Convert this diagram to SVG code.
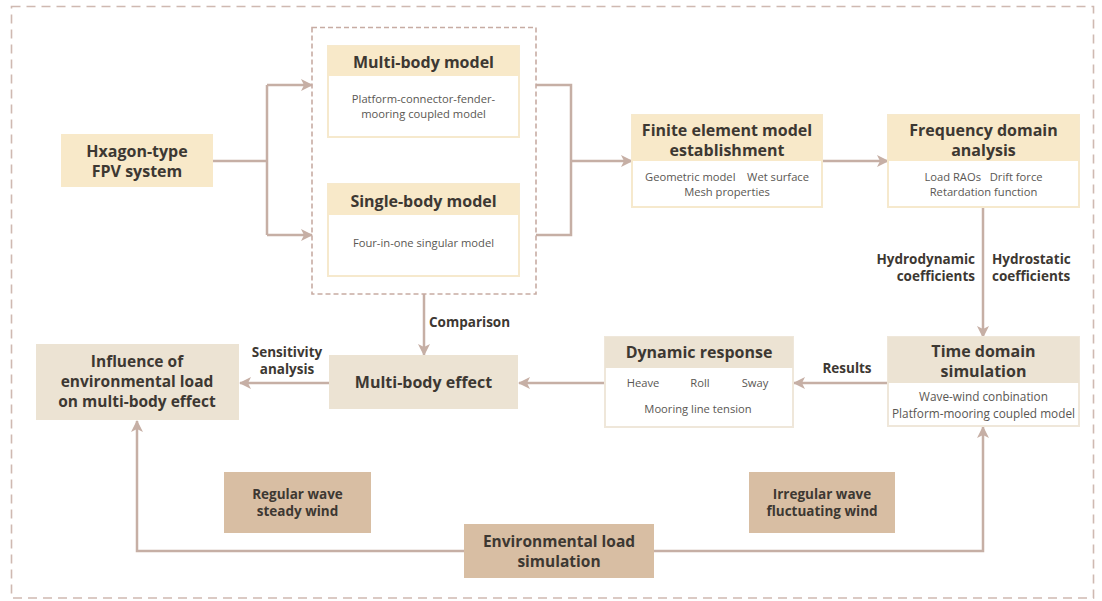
<svg xmlns="http://www.w3.org/2000/svg" width="1102" height="601" viewBox="0 0 1102 601">
<style>
.t{font-family:"Open Sans","Liberation Sans",sans-serif;font-weight:bold;font-size:16px;fill:#3d3832;text-anchor:middle}
.l{font-family:"Open Sans","Liberation Sans",sans-serif;font-weight:bold;font-size:13.5px;fill:#3d3832}
.s{font-family:"Open Sans","Liberation Sans",sans-serif;font-size:11.2px;fill:#5a5753;text-anchor:middle}
.hdrY{fill:#f8e9c9}
.hdrG{fill:#ece3d3}
.tan{fill:#d8bea3}
.body{fill:#ffffff;stroke:#f6e9cd;stroke-width:2}
.bodyG{fill:#ffffff;stroke:#efe7da;stroke-width:2}
.c{fill:none;stroke:#c6afa5;stroke-width:2.5}
.ca{fill:none;stroke:#c6afa5;stroke-width:2.5;marker-end:url(#ah)}
</style>
<defs>
<marker id="ah" markerUnits="userSpaceOnUse" markerWidth="12" markerHeight="12" viewBox="0 0 12 12" refX="11" refY="6" orient="auto">
<path d="M0,0 L12,6 L0,12 L3,6 z" fill="#c6afa5"/>
</marker>
</defs>
<rect x="0" y="0" width="1102" height="601" fill="#ffffff"/>
<rect x="11.5" y="6.5" width="1082" height="591.5" fill="none" stroke="#cfb9b1" stroke-width="1.6" stroke-dasharray="9 6"/>

<g id="connectors">
<path class="c" d="M213,161 H267 M267,85 V235"/>
<path class="ca" d="M267,85 H312"/>
<path class="ca" d="M267,235 H312"/>
<path class="c" d="M536,85 H571 V235 H536"/>
<path class="ca" d="M571,161 H632"/>
<path class="ca" d="M822,161 H888"/>
<path class="ca" d="M983,207 V337"/>
<path class="ca" d="M888,383 H794"/>
<path class="ca" d="M605,383 H519"/>
<path class="ca" d="M329,383 H240"/>
<path class="ca" d="M424,294 V355"/>
<path class="ca" d="M464,551 H137 V421"/>
<path class="ca" d="M654,551 H983 V427"/>
</g>

<g id="model-group">
<rect x="312" y="27.5" width="224" height="266.5" fill="none" stroke="#c7aca3" stroke-width="1.6" stroke-dasharray="5 3"/>
</g>

<g id="hxagon">
<rect x="61" y="134" width="152" height="53" class="hdrY"/>
<text class="t" x="137" y="157">Hxagon-type</text>
<text class="t" x="137" y="177">FPV system</text>
</g>

<g id="multi-body-model">
<rect x="328" y="46" width="191" height="91" class="body"/>
<rect x="328" y="46" width="191" height="30" class="hdrY"/>
<text class="t" x="423.5" y="68">Multi-body model</text>
<text class="s" x="423.5" y="103">Platform-connector-fender-</text>
<text class="s" x="423.5" y="118">mooring coupled model</text>
</g>

<g id="single-body-model">
<rect x="328" y="184" width="191" height="92" class="body"/>
<rect x="328" y="184" width="191" height="31" class="hdrY"/>
<text class="t" x="423.5" y="207">Single-body model</text>
<text class="s" x="423.5" y="247">Four-in-one singular model</text>
</g>

<g id="finite-element">
<rect x="632" y="115" width="190" height="92" class="body"/>
<rect x="632" y="115" width="190" height="46" class="hdrY"/>
<text class="t" x="727" y="136">Finite element model</text>
<text class="t" x="727" y="156">establishment</text>
<text class="s" x="727" y="181" xml:space="preserve">Geometric model    Wet surface</text>
<text class="s" x="727" y="196">Mesh properties</text>
</g>

<g id="frequency-domain">
<rect x="888" y="115" width="191" height="92" class="body"/>
<rect x="888" y="115" width="191" height="46" class="hdrY"/>
<text class="t" x="983.5" y="136">Frequency domain</text>
<text class="t" x="983.5" y="156">analysis</text>
<text class="s" x="983.5" y="181" xml:space="preserve">Load RAOs   Drift force</text>
<text class="s" x="983.5" y="196">Retardation function</text>
</g>

<g id="time-domain">
<rect x="888" y="337" width="191" height="89" class="bodyG"/>
<rect x="888" y="337" width="191" height="46" class="hdrG"/>
<text class="t" x="983.5" y="357">Time domain</text>
<text class="t" x="983.5" y="377">simulation</text>
<text class="s" x="983.5" y="401" style="font-size:11.8px">Wave-wind conbination</text>
<text class="s" x="983.5" y="418" style="font-size:11.8px">Platform-mooring coupled model</text>
</g>

<g id="dynamic-response">
<rect x="605" y="337" width="188" height="90" class="bodyG"/>
<rect x="605" y="337" width="188" height="31" class="hdrG"/>
<text class="t" x="699" y="358">Dynamic response</text>
<text class="s" x="643" y="387">Heave</text>
<text class="s" x="700" y="387">Roll</text>
<text class="s" x="755" y="387">Sway</text>
<text class="s" x="698" y="413">Mooring line tension</text>
</g>

<g id="multi-body-effect">
<rect x="329" y="355" width="189" height="54" class="hdrG"/>
<text class="t" x="423.5" y="388">Multi-body effect</text>
</g>

<g id="influence">
<rect x="36" y="344" width="203" height="76" class="hdrG"/>
<text class="t" x="137" y="367" style="font-size:15.5px">Influence of</text>
<text class="t" x="137" y="387" style="font-size:15.5px">environmental load</text>
<text class="t" x="137" y="407" style="font-size:15.5px">on multi-body effect</text>
</g>

<g id="regular-wave">
<rect x="224" y="472" width="147" height="61" class="tan"/>
<text class="l" x="297.5" y="499" text-anchor="middle">Regular wave</text>
<text class="l" x="297.5" y="516" text-anchor="middle">steady wind</text>
</g>

<g id="irregular-wave">
<rect x="749" y="472" width="146" height="61" class="tan"/>
<text class="l" x="822" y="499" text-anchor="middle">Irregular wave</text>
<text class="l" x="822" y="516" text-anchor="middle">fluctuating wind</text>
</g>

<g id="environmental-load">
<rect x="464" y="524" width="190" height="54" class="tan"/>
<text class="t" x="559" y="547" style="font-size:15.5px">Environmental load</text>
<text class="t" x="559" y="567" style="font-size:15.5px">simulation</text>
</g>

<g id="labels">
<text class="l" x="429" y="327">Comparison</text>
<text class="l" x="287" y="357" text-anchor="middle">Sensitivity</text>
<text class="l" x="287" y="374" text-anchor="middle">analysis</text>
<text class="l" x="847" y="373" text-anchor="middle">Results</text>
<text class="l" x="975" y="264" text-anchor="end">Hydrodynamic</text>
<text class="l" x="975" y="281" text-anchor="end">coefficients</text>
<text class="l" x="992" y="264">Hydrostatic</text>
<text class="l" x="992" y="281">coefficients</text>
</g>
</svg>
